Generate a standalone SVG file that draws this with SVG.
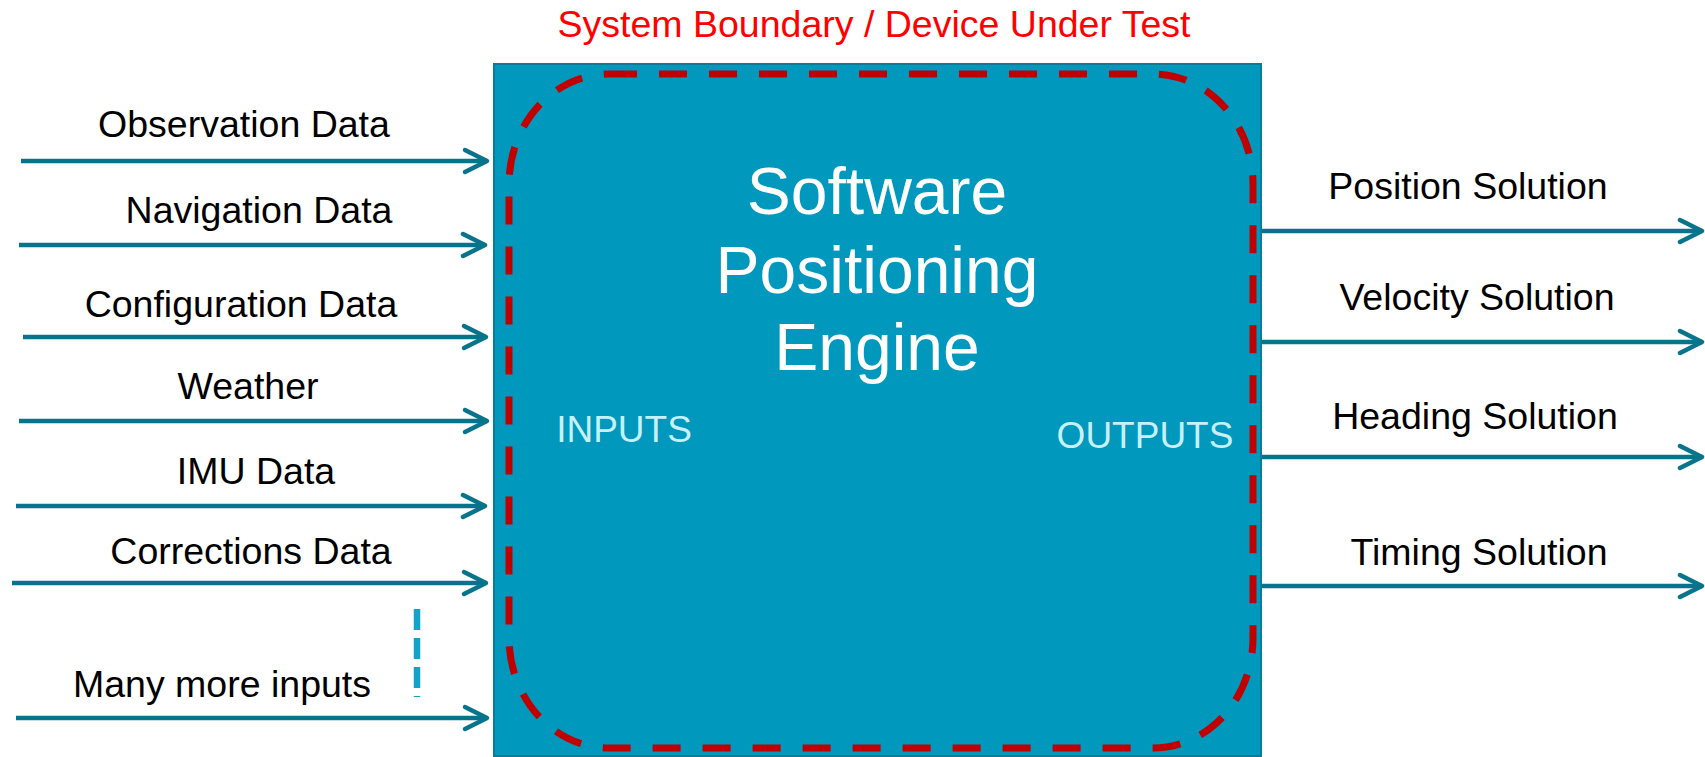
<svg xmlns="http://www.w3.org/2000/svg" width="1705" height="757" viewBox="0 0 1705 757">
  <style>
    text { font-family: "Liberation Sans", Arial, sans-serif; }
    .lbl { font-size: 37.5px; fill: #000000; text-anchor: middle; }
    .title { font-size: 37.5px; fill: #FF0000; text-anchor: middle; }
    .engine { font-size: 66px; fill: #FFFFFF; text-anchor: middle; }
    .io { font-size: 37px; fill: #C6F1FB; text-anchor: middle; }
    .flow { stroke: #08748B; stroke-width: 4.5; fill: none; marker-end: url(#chev); }
  </style>
  <defs>
    <marker id="chev" markerUnits="userSpaceOnUse" markerWidth="40" markerHeight="40" refX="0" refY="0" viewBox="-30 -20 40 40" orient="auto" overflow="visible">
      <path d="M -22 -11 L 0 0 L -22 11" fill="none" stroke="#08748B" stroke-width="4.5" stroke-linecap="round" stroke-linejoin="round"/>
    </marker>
  </defs>

  <rect width="1705" height="757" fill="#FFFFFF"/>

  <!-- title above the system block -->
  <text class="title" x="874" y="37">System Boundary / Device Under Test</text>

  <!-- positioning engine block -->
  <g id="engine">
    <rect x="494" y="64" width="767" height="692" fill="#0098BC" stroke="#0A7C96" stroke-width="2"/>
    <rect x="509" y="74" width="744" height="674" rx="100" ry="110" fill="none" stroke="#C00000" stroke-width="7" stroke-dasharray="28 22"/>
    <text class="engine" x="877" y="214">Software</text>
    <text class="engine" x="877" y="293">Positioning</text>
    <text class="engine" x="877" y="370">Engine</text>
    <text class="io" x="624" y="442">INPUTS</text>
    <text class="io" x="1145" y="448">OUTPUTS</text>
  </g>

  <!-- input labels -->
  <g id="in-observation"><text class="lbl" x="244" y="137">Observation Data</text></g>
  <g id="in-navigation"><text class="lbl" x="259" y="223">Navigation Data</text></g>
  <g id="in-configuration"><text class="lbl" x="241" y="317">Configuration Data</text></g>
  <g id="in-weather"><text class="lbl" x="248" y="399">Weather</text></g>
  <g id="in-imu"><text class="lbl" x="256" y="484">IMU Data</text></g>
  <g id="in-corrections"><text class="lbl" x="251" y="564">Corrections Data</text></g>
  <g id="in-more">
    <text class="lbl" x="222" y="697">Many more inputs</text>
    <line x1="417" y1="609" x2="417" y2="697" stroke="#14A2CA" stroke-width="6.5" stroke-dasharray="21 8"/>
  </g>

  <!-- output labels -->
  <g id="out-position"><text class="lbl" x="1468" y="199">Position Solution</text></g>
  <g id="out-velocity"><text class="lbl" x="1477" y="310">Velocity Solution</text></g>
  <g id="out-heading"><text class="lbl" x="1475" y="429">Heading Solution</text></g>
  <g id="out-timing"><text class="lbl" x="1479" y="565">Timing Solution</text></g>

  <!-- connectors -->
  <g id="connectors">
    <line class="flow" x1="21" y1="161" x2="487" y2="161"/>
    <line class="flow" x1="19" y1="245" x2="485" y2="245"/>
    <line class="flow" x1="23" y1="337" x2="486" y2="337"/>
    <line class="flow" x1="19" y1="421" x2="487" y2="421"/>
    <line class="flow" x1="16" y1="506" x2="485" y2="506"/>
    <line class="flow" x1="12" y1="583" x2="486" y2="583"/>
    <line class="flow" x1="16" y1="718" x2="487" y2="718"/>
    <line class="flow" x1="1262" y1="231" x2="1702" y2="231"/>
    <line class="flow" x1="1262" y1="342" x2="1702" y2="342"/>
    <line class="flow" x1="1262" y1="457" x2="1702" y2="457"/>
    <line class="flow" x1="1262" y1="586" x2="1702" y2="586"/>
  </g>
</svg>
